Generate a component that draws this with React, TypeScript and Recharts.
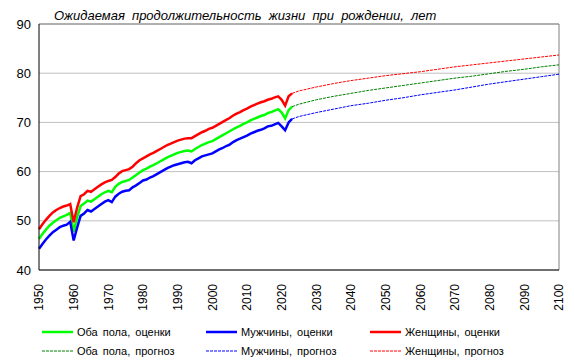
import { LineChart, Line, XAxis, YAxis, CartesianGrid, ReferenceLine } from 'recharts'

const FONT = "Arial, 'Liberation Sans', sans-serif"

// Оценки, 1950–2023
const histYears = [
  1950, 1951, 1952, 1953, 1954, 1955, 1956, 1957, 1958, 1959,
  1960, 1961, 1962, 1963, 1964, 1965, 1966, 1967, 1968, 1969,
  1970, 1971, 1972, 1973, 1974, 1975, 1976, 1977, 1978, 1979,
  1980, 1981, 1982, 1983, 1984, 1985, 1986, 1987, 1988, 1989,
  1990, 1991, 1992, 1993, 1994, 1995, 1996, 1997, 1998, 1999,
  2000, 2001, 2002, 2003, 2004, 2005, 2006, 2007, 2008, 2009,
  2010, 2011, 2012, 2013, 2014, 2015, 2016, 2017, 2018, 2019,
  2020, 2021, 2022, 2023,
]
const bothHist = [
  46.3, 47.3, 48.2, 49.0, 49.6, 50.1, 50.6, 50.9, 51.2, 51.6,
  47.8, 50.7, 53.0, 53.5, 54.1, 53.9, 54.4, 54.9, 55.4, 55.8,
  56.1, 55.8, 56.9, 57.5, 57.9, 58.1, 58.3, 58.8, 59.3, 59.8,
  60.3, 60.6, 61.0, 61.3, 61.7, 62.1, 62.5, 62.9, 63.2, 63.5,
  63.8, 64.0, 64.2, 64.3, 64.1, 64.6, 65.0, 65.4, 65.7, 66.0,
  66.2, 66.6, 67.0, 67.4, 67.8, 68.2, 68.6, 69.0, 69.3, 69.7,
  70.0, 70.4, 70.7, 71.0, 71.3, 71.5, 71.9, 72.1, 72.4, 72.7,
  72.0, 70.8, 72.5, 73.2,
]
const menHist = [
  44.3, 45.3, 46.2, 47.0, 47.7, 48.2, 48.7, 49.0, 49.2, 49.8,
  46.0, 48.6, 51.0, 51.5, 52.2, 51.9, 52.4, 52.9, 53.4, 53.9,
  54.2, 53.8, 54.9, 55.5, 55.9, 56.1, 56.2, 56.8, 57.2, 57.7,
  58.2, 58.4, 58.8, 59.1, 59.5, 59.9, 60.3, 60.7, 61.0, 61.3,
  61.5, 61.7, 61.9, 62.0, 61.7, 62.3, 62.7, 63.1, 63.3, 63.5,
  63.7, 64.1, 64.5, 64.8, 65.2, 65.5, 66.0, 66.4, 66.7, 67.0,
  67.3, 67.7, 68.0, 68.3, 68.5, 68.8, 69.2, 69.3, 69.6, 69.9,
  69.2, 68.4, 70.0, 70.7,
]
const womenHist = [
  48.3, 49.3, 50.2, 51.0, 51.7, 52.2, 52.6, 52.9, 53.1, 53.4,
  49.7, 52.7, 55.0, 55.4, 56.1, 55.9, 56.4, 56.9, 57.4, 57.8,
  58.1, 58.3, 58.9, 59.6, 60.1, 60.3, 60.5, 61.0, 61.7, 62.3,
  62.7, 63.1, 63.5, 63.8, 64.2, 64.6, 65.0, 65.4, 65.7, 66.0,
  66.3, 66.5, 66.7, 66.8, 66.8, 67.2, 67.6, 68.0, 68.3, 68.7,
  68.9, 69.3, 69.7, 70.1, 70.5, 70.9, 71.4, 71.8, 72.1, 72.5,
  72.8, 73.2, 73.5, 73.8, 74.1, 74.3, 74.6, 74.8, 75.1, 75.3,
  74.6, 73.4, 75.3, 75.9,
]

// Прогноз, 2023–2100
const fcYears = [2023, 2025, 2030, 2035, 2040, 2045, 2050, 2055, 2060, 2065, 2070, 2075, 2080, 2085, 2090, 2095, 2100]
const bothFc = [73.2, 73.7, 74.6, 75.3, 75.9, 76.5, 77.0, 77.5, 78.0, 78.5, 79.0, 79.4, 79.9, 80.4, 80.8, 81.3, 81.7]
const menFc = [70.7, 71.2, 72.0, 72.7, 73.4, 73.9, 74.5, 75.0, 75.6, 76.1, 76.6, 77.2, 77.8, 78.3, 78.8, 79.3, 79.8]
const womenFc = [75.9, 76.4, 77.2, 77.9, 78.5, 79.0, 79.5, 79.9, 80.3, 80.8, 81.3, 81.7, 82.1, 82.5, 82.9, 83.3, 83.7]

const xTicks = [1950, 1960, 1970, 1980, 1990, 2000, 2010, 2020, 2030, 2040, 2050, 2060, 2070, 2080, 2090, 2100]
const yTicks = [40, 50, 60, 70, 80, 90]

const title = 'Ожидаемая продолжительность жизни при рождении, лет'

const legendItems = [
  { label: 'Оба пола, оценки', color: '#00ff00', dashed: false },
  { label: 'Мужчины, оценки', color: '#0000ff', dashed: false },
  { label: 'Женщины, оценки', color: '#ff0000', dashed: false },
  { label: 'Оба пола, прогноз', color: '#008000', dashed: true },
  { label: 'Мужчины, прогноз', color: '#0000ff', dashed: true },
  { label: 'Женщины, прогноз', color: '#ff0000', dashed: true },
]

// one table: annual estimates, then 5-year forecast points
const allYears = Array.from(new Set([...histYears, ...fcYears])).sort((a, b) => a - b)
const data = allYears.map(year => {
  const h = histYears.indexOf(year)
  const f = fcYears.indexOf(year)
  return {
    year,
    both: h >= 0 ? bothHist[h] : undefined,
    men: h >= 0 ? menHist[h] : undefined,
    women: h >= 0 ? womenHist[h] : undefined,
    bothFc: f >= 0 ? bothFc[f] : undefined,
    menFc: f >= 0 ? menFc[f] : undefined,
    womenFc: f >= 0 ? womenFc[f] : undefined,
  }
})

const YearTick = ({ x, y, payload }: { x?: number; y?: number; payload?: { value: number } }) => (
  <text
    x={0}
    y={0}
    transform={`translate(${x},${(y ?? 0) + 6}) rotate(-90)`}
    textAnchor="end"
    dy="0.35em"
    fontSize={12}
    fontFamily={FONT}
    fill="#000"
  >
    {payload?.value}
  </text>
)

const LegendBox = () => (
  <div style={{ position: 'absolute', left: 42, top: 325, display: 'grid', gridTemplateColumns: '164px 164px 170px', rowGap: 5, fontFamily: FONT, fontSize: 11, color: '#000' }}>
    {legendItems.map(it => (
      <div key={it.label} style={{ display: 'flex', alignItems: 'center', height: 14 }}>
        <svg width={31} height={6} style={{ marginRight: 4 }}>
          <line
            x1={0} y1={3} x2={31} y2={3}
            stroke={it.color}
            strokeWidth={it.dashed ? 1 : 2.5}
            strokeDasharray={it.dashed ? '3 1' : undefined}
          />
        </svg>
        <span style={{ wordSpacing: 2, whiteSpace: 'nowrap' }}>{it.label}</span>
      </div>
    ))}
  </div>
)

export default function App() {
  return (
    <div style={{ position: 'absolute', left: 0, top: 0, width: 575, height: 362, background: '#fff' }}>
      <LineChart width={575} height={362} data={data} margin={{ top: 24, right: 16, left: 0, bottom: 52 }}>
        <text x={54} y={20} fontSize={13} fontStyle="italic" fontFamily={FONT} fill="#000" wordSpacing={3.5}>{title}</text>
        <CartesianGrid horizontal vertical={false} stroke="#c0c0c0" />
        <XAxis
          dataKey="year"
          type="number"
          domain={[1950, 2100]}
          ticks={xTicks}
          interval={0}
          tick={<YearTick />}
          tickLine={false}
          axisLine={{ stroke: '#000' }}
          height={40}
        />
        <YAxis
          domain={[40, 90]}
          ticks={yTicks}
          width={39}
          tickLine={false}
          tickSize={0}
          tickMargin={8}
          tick={{ fontSize: 13, fontFamily: FONT, fill: '#000' }}
          axisLine={{ stroke: '#000' }}
        />
        <ReferenceLine y={90} stroke="#808080" />
        <ReferenceLine x={2100} stroke="#808080" />
        <Line dataKey="bothFc" stroke="#008000" strokeWidth={1} strokeDasharray="3 1" dot={false} isAnimationActive={false} />
        <Line dataKey="menFc" stroke="#0000ff" strokeWidth={1} strokeDasharray="3 1" dot={false} isAnimationActive={false} />
        <Line dataKey="womenFc" stroke="#ff0000" strokeWidth={1} strokeDasharray="3 1" dot={false} isAnimationActive={false} />
        <Line dataKey="both" stroke="#00ff00" strokeWidth={2.5} dot={false} isAnimationActive={false} />
        <Line dataKey="men" stroke="#0000ff" strokeWidth={2.5} dot={false} isAnimationActive={false} />
        <Line dataKey="women" stroke="#ff0000" strokeWidth={2.5} dot={false} isAnimationActive={false} />
      </LineChart>
      <LegendBox />
    </div>
  )
}
